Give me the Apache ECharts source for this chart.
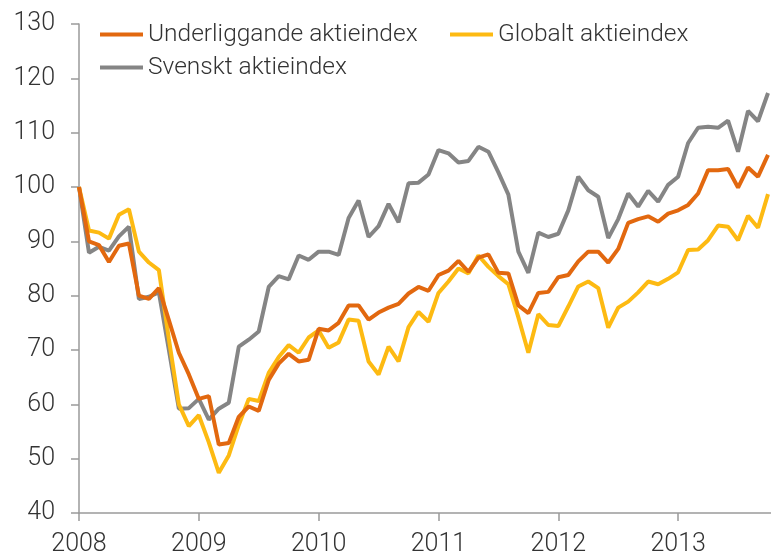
<!DOCTYPE html>
<html>
<head>
<meta charset="utf-8">
<script src="https://cdn.jsdelivr.net/npm/echarts@6/dist/echarts.min.js"></script>
<style>
html,body{margin:0;padding:0;background:#fff;}
#c{width:771px;height:559px;}
</style>
</head>
<body>
<div id="c"></div>
<script>
// Monthly observations, Jan 2008 .. Oct 2013 (index 0 = Jan 2008)
var seriesNames = ['Underliggande aktieindex', 'Globalt aktieindex', 'Svenskt aktieindex'];
var yearLabels = ['2008', '2009', '2010', '2011', '2012', '2013'];
var underliggande = [
  100, 90, 89.3, 86.2, 89.2, 89.6, 80, 79.4, 81.4, 75.5, 69.5, 65.5,
  61, 61.5, 52.6, 52.9, 57.7, 59.6, 58.8, 64.5, 67.5, 69.3, 67.9, 68.2,
  73.9, 73.6, 75, 78.2, 78.2, 75.6, 76.9, 77.8, 78.5, 80.4, 81.6, 80.9,
  83.8, 84.6, 86.4, 84.4, 87, 87.6, 84.2, 84.1, 78.2, 76.8, 80.5, 80.7,
  83.4, 83.8, 86.3, 88.1, 88.1, 86.1, 88.6, 93.4, 94.1, 94.6, 93.6, 95.1,
  95.7, 96.7, 98.8, 103.1, 103.1, 103.3, 99.9, 103.6, 101.9, 105.9
];
var globalt = [
  100, 92, 91.6, 90.5, 94.9, 95.9, 88.1, 86.1, 84.7, 72, 60, 56,
  58, 53, 47.4, 50.6, 56.2, 61, 60.6, 65.8, 68.7, 70.9, 69.5, 72.3,
  73.6, 70.4, 71.4, 75.6, 75.4, 67.9, 65.5, 70.6, 67.9, 74.2, 77, 75.2,
  80.5, 82.6, 85, 84.1, 87.4, 85.3, 83.6, 82.1, 76, 69.5, 76.6, 74.6,
  74.4, 78, 81.7, 82.6, 81.4, 74.1, 77.8, 78.9, 80.6, 82.6, 82.1, 83.1,
  84.3, 88.4, 88.5, 90.2, 92.9, 92.7, 90.2, 94.7, 92.5, 98.7
];
var svenskt = [
  100, 87.9, 89, 88.3, 90.9, 92.7, 79.4, 79.8, 80.6, 70, 59.2, 59.3,
  61, 57.2, 59.2, 60.3, 70.6, 71.9, 73.4, 81.6, 83.6, 83, 87.4, 86.6,
  88.1, 88.1, 87.5, 94.3, 97.5, 90.8, 92.8, 96.9, 93.5, 100.7, 100.8, 102.3,
  106.8, 106.2, 104.5, 104.8, 107.4, 106.5, 102.7, 98.6, 88.1, 84.2, 91.6, 90.8,
  91.4, 95.7, 101.9, 99.4, 98.2, 90.6, 94.1, 98.8, 96.4, 99.3, 97.3, 100.4,
  101.9, 108.1, 110.9, 111.1, 110.9, 112.2, 106.5, 114, 112.1, 117.3
];

function toPairs(arr) {
  return arr.map(function (v, i) { return [i, v]; });
}

var colors = ['#E2680F', '#FDBA12', '#858585'];
var axisText = { color: '#333', fontFamily: 'Roboto', fontWeight: 300, fontSize: 25 };
var legendText = { color: '#333', fontFamily: 'Roboto', fontWeight: 300, fontSize: 24.5 };

function legendAt(name, left, top) {
  return {
    data: [name], left: left, top: top, icon: 'rect',
    itemWidth: 43, itemHeight: 4, itemGap: 0, padding: 0,
    textStyle: legendText
  };
}

var chart = echarts.init(document.getElementById('c'), null, { renderer: 'canvas' });
chart.setOption({
  animation: false,
  color: colors,
  grid: { left: 79, right: 0, top: 24, bottom: 46, containLabel: false },
  legend: [
    legendAt(seriesNames[0], 100, 22),
    legendAt(seriesNames[1], 450, 22),
    legendAt(seriesNames[2], 100, 55)
  ],
  xAxis: {
    type: 'value', min: 0, max: 69.3,
    splitLine: { show: false },
    axisLine: { show: true, lineStyle: { color: '#9a9a9a', width: 1.5 } },
    axisTick: { show: true, length: 8, lineStyle: { color: '#9a9a9a', width: 1.5 },
      customValues: [0, 12, 24, 36, 48, 60] },
    axisLabel: Object.assign({ margin: 19,
      customValues: [0, 12, 24, 36, 48, 60],
      formatter: function (v) { return yearLabels[Math.round(v / 12)] || ''; }
    }, axisText)
  },
  yAxis: {
    type: 'value', min: 40, max: 130, interval: 10,
    splitLine: { show: false },
    axisLine: { show: true, lineStyle: { color: '#9a9a9a', width: 1.5 } },
    axisTick: { show: true, length: 8, lineStyle: { color: '#9a9a9a', width: 1.5 } },
    axisLabel: Object.assign({ margin: 24 }, axisText)
  },
  series: [
    { name: seriesNames[0], type: 'line', data: toPairs(underliggande), showSymbol: false, lineStyle: { width: 4 }, z: 3 },
    { name: seriesNames[1], type: 'line', data: toPairs(globalt), showSymbol: false, lineStyle: { width: 4 }, z: 2 },
    { name: seriesNames[2], type: 'line', data: toPairs(svenskt), showSymbol: false, lineStyle: { width: 4 }, z: 1 }
  ]
});
</script>
</body>
</html>
